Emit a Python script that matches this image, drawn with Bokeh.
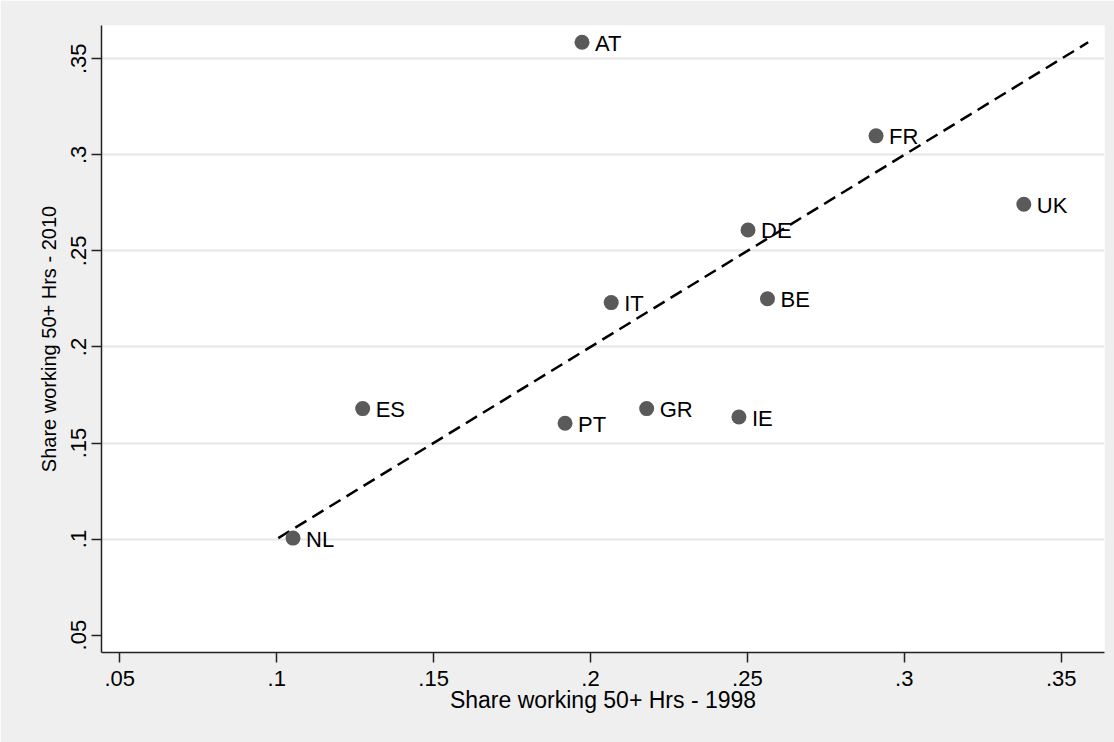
from bokeh.plotting import figure
from bokeh.models import ColumnDataSource, Range1d, FixedTicker
from bokeh.core.properties import value
from bokeh.embed import file_html
from bokeh.resources import INLINE

countries = ["AT", "FR", "UK", "DE", "IT", "BE", "ES", "GR", "PT", "IE", "NL"]
share_1998 = [0.1973, 0.2910, 0.3381, 0.2502, 0.2066, 0.2564, 0.1274, 0.2179, 0.1919, 0.2473, 0.1052]
share_2010 = [0.3586, 0.3099, 0.2743, 0.2609, 0.2231, 0.2251, 0.1679, 0.1679, 0.1603, 0.1635, 0.1005]

line_x = [0.1005, 0.3586]
line_y = [0.1005, 0.3586]

x_tick_vals = [0.05, 0.1, 0.15, 0.2, 0.25, 0.3, 0.35]
x_tick_labels = [".05", ".1", ".15", ".2", ".25", ".3", ".35"]
y_tick_vals = [0.05, 0.1, 0.15, 0.2, 0.25, 0.3, 0.35]
y_tick_labels = [".05", ".1", ".15", ".2", ".25", ".3", ".35"]
y_grid_vals = [0.1, 0.15, 0.2, 0.25, 0.3, 0.35]

FONT = "Liberation Sans"
BG = "#EFEFEF"

p = figure(width=1114, height=742, output_backend="svg", toolbar_location=None,
           x_range=Range1d(0.04417, 0.3638), y_range=Range1d(0.04094, 0.36734))
p.min_border_left = 101
p.min_border_right = 10
p.min_border_top = 25
p.min_border_bottom = 90
p.background_fill_color = "white"
p.border_fill_color = BG
p.outline_line_color = None

src = ColumnDataSource(dict(x=share_1998, y=share_2010, name=countries))

p.line(line_x, line_y, line_color="black", line_width=2.5, line_dash="13 7")
p.scatter("x", "y", source=src, size=15, fill_color="#5a5a5a", line_color=None)
p.text("x", "y", text="name", source=src, x_offset=13, y_offset=1,
       text_font=value(FONT), text_font_size="22px", text_baseline="middle",
       text_align="left", text_color="black")

# axes
for ax in (p.xaxis[0], p.yaxis[0]):
    ax.axis_line_color = "#222222"
    ax.axis_line_width = 1.5
    ax.major_tick_line_color = "#222222"
    ax.major_tick_line_width = 1.5
    ax.major_tick_in = 0
    ax.major_tick_out = 10
    ax.minor_tick_line_color = None
    ax.major_label_text_font = FONT
    ax.major_label_text_font_size = "22px"
    ax.major_label_text_color = "black"
    ax.axis_label_text_font = FONT
    ax.axis_label_text_font_style = "normal"
    ax.axis_label_text_color = "black"

p.xaxis.ticker = FixedTicker(ticks=x_tick_vals)
p.xaxis.major_label_overrides = dict(zip(x_tick_vals, x_tick_labels))
p.xaxis.major_label_standoff = 8
p.xaxis.axis_label = "Share working 50+ Hrs - 1998"
p.xaxis.axis_label_text_font_size = "23px"
p.xaxis.axis_label_standoff = -2

p.yaxis.ticker = FixedTicker(ticks=y_tick_vals)
p.yaxis.major_label_overrides = dict(zip(y_tick_vals, y_tick_labels))
p.yaxis.major_label_orientation = "vertical"
p.yaxis.major_label_standoff = 5
p.yaxis.axis_label = "Share working 50+ Hrs - 2010"
p.yaxis.axis_label_text_font_size = "20px"
p.yaxis.axis_label_standoff = 9

p.xgrid.grid_line_color = None
p.ygrid.ticker = FixedTicker(ticks=y_grid_vals)
p.ygrid.grid_line_color = "#E6E6E6"
p.ygrid.grid_line_width = 2

open("out.html", "w").write(file_html(p, INLINE))
